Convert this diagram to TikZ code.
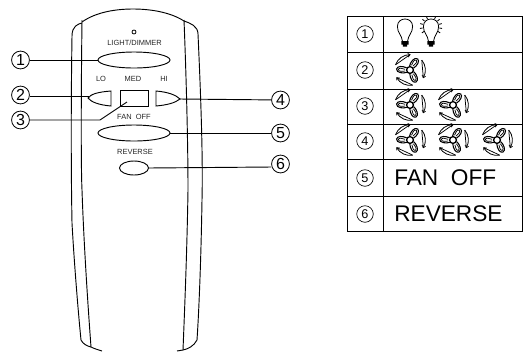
\documentclass[tikz,border=0pt]{standalone}
\usepackage{fontspec}
\setmainfont{Liberation Sans}
\usetikzlibrary{calc}
\tikzset{
  ln/.style={line width=0.7pt,black},
  num/.style={draw,circle,line width=0.6pt,minimum size=13.4pt,inner sep=0pt,font=\fontsize{12}{12}\selectfont},
  small/.style={inner sep=0pt,font=\fontsize{5.6}{6}\selectfont,text=black!85},
  tnum/.style={draw,circle,line width=0.5pt,minimum size=12.4pt,inner sep=0pt,font=\fontsize{9.5}{9.5}\selectfont},
  big/.style={inner sep=0pt,anchor=west,font=\fontsize{17}{18}\selectfont},
  fan/.pic={
    \draw[line width=1pt] (0,0) circle (3.4);
    \foreach \a in {62,182,-58}{
      \begin{scope}[rotate=\a]
        \draw[line width=0.8pt] (3.2,2.2) .. controls (7,4.4) and (12.6,4.6) .. (13.4,1.5) .. controls (13.9,-2.2) and (7,-3.6) .. (3.2,-2.2);
        \draw[line width=0.55pt] (5,0.9) .. controls (7.6,2.3) and (11.2,2.7) .. (11.6,1) .. controls (11.8,-0.9) and (7.6,-1.8) .. (5,-0.9);
        \draw[line width=0.6pt] (22:15.4) arc (22:92:15.4);
        \draw[line width=0.55pt] (22:15.4) .. controls (38:13.2) and (74:13.2) .. (92:15.4);
        \draw[line width=0.55pt] (84:13) -- (92:15.4) -- (84:16.8);
      \end{scope}
    }
  },
  bulbb/.pic={
    \draw[line width=0.6pt] (-2.6,0) .. controls (-3.2,-6) and (-7.6,-8) .. (-7.6,-14.5) .. controls (-7.6,-24.5) and (7.6,-24.5) .. (7.6,-14.5) .. controls (7.6,-8) and (3.2,-6) .. (2.6,0);
    \fill (-3.6,0) rectangle (3.6,3.6) (-2.2,3.6) rectangle (2.2,5.6);
  },
  rays/.pic={
    \foreach \a in {-215,-190,-165,-140,-115,-65,-40,-15,10,35}{
      \draw[line width=0.6pt] (0,-14.5) ++(\a:8.4) -- ++(\a:2.8);
    }
  }
}
\begin{document}
\begin{tikzpicture}[x=0.75pt,y=-0.75pt]
\useasboundingbox (0,0) rectangle (523,351);
% remote
\draw[ln] (82,22) .. controls (96,12) and (116,9) .. (133,9) .. controls (150,9) and (170,12) .. (184,21);
\draw[ln] (82,23) .. controls (78,24) and (72,26) .. (72,36) .. controls (71,100) and (71,170) .. (72,223) .. controls (74,260) and (78,310) .. (81,340) .. controls (83,344) and (87,346) .. (91,347) .. controls (95,349) and (99,350) .. (102,351);
\draw[ln] (82,20) .. controls (81,100) and (81,170) .. (82,190) .. controls (84,250) and (89,320) .. (91,347);
\draw[ln] (184,20) .. controls (186,70) and (188,140) .. (188,190) .. controls (187,250) and (185,300) .. (183,350);
\draw[ln] (184,21) .. controls (190,23) and (198,26) .. (198,34) .. controls (201,100) and (203,160) .. (202,200) .. controls (201,260) and (199,310) .. (197,340) .. controls (194,346) and (188,349) .. (183,350) -- (177,351);
\node[draw,circle,line width=0.6pt,minimum size=3pt,inner sep=0pt] (led) at (134,32) {};
% labels
\node[small] (tlight) at (134.5,43) {LIGHT/DIMMER};
\node[small] (tlo) at (101,79) {LO};
\node[small] (tmed) at (133,79) {MED};
\node[small] (thi) at (164,79) {HI};
\node[small] (tfan) at (134,117) {FAN\ \ OFF};
\node[small] (trev) at (135,152) {REVERSE};
% buttons
\draw[ln] (134,60) ellipse (36 and 8);
\coordinate (b1) at (98,60);
\draw[ln] (134,133) ellipse (36 and 8);
\coordinate (b5) at (170,133);
\draw[ln] (134,168) ellipse (14.5 and 7);
\coordinate (b6) at (148.5,168);
\draw[ln] (120,90) rectangle (148,106);
\coordinate (b3) at (127,102);
\draw[ln] (111,91) .. controls (98,92) and (91,94) .. (88,98) .. controls (91,102) and (99,105) .. (111,106) -- cycle;
\coordinate (b2) at (89,96);
\draw[ln] (156,91) .. controls (168,92) and (176,95) .. (180,99) .. controls (175,103) and (167,105) .. (156,106) -- cycle;
\coordinate (b4) at (180,99);
% callouts
\node[num] (n1) at (20.5,60) {1};
\node[num] (n2) at (20.5,95) {2};
\node[num] (n3) at (20.5,120) {3};
\node[num] (n4) at (280.5,100) {4};
\node[num] (n5) at (280.5,133) {5};
\node[num] (n6) at (280.5,164) {6};
\draw[ln] (n1) -- (b1);
\draw[ln] (n2.east) ++(0,1) -- (b2);
\coordinate (k3) at (100,120);
\draw[ln] (n3) -- (k3) -- (b3);
\draw[ln] (n4) -- (b4);
\draw[ln] (n5) -- (b5);
\draw[ln] (n6.west) ++(0,3) -- (b6);
% table
\draw[line width=0.7pt] (347,16) rectangle (522,231);
\draw[line width=0.7pt] (383,16) -- (383,231);
\foreach \y in {52,89,124,159,196}{\draw[line width=0.7pt] (347,\y) -- (522,\y);}
\node[tnum] (t1) at (365,34) {1};
\node[tnum] (t2) at (365,70) {2};
\node[tnum] (t3) at (365,106) {3};
\node[tnum] (t4) at (365,141) {4};
\node[tnum] (t5) at (365,178) {5};
\node[tnum] (t6) at (365,214) {6};
\pic at (405,41) {bulbb};
\pic at (431,41) {bulbb};
\pic at (431,41) {rays};
\pic at (410,70) {fan};
\pic at (410,105) {fan};
\pic at (453,105) {fan};
\pic at (410,140) {fan};
\pic at (453,140) {fan};
\pic at (497,140) {fan};
\node[big] (tb5) at (394,178) {FAN\ \ OFF};
\node[big] (tb6) at (394,214) {REVERSE};
\end{tikzpicture}
\end{document}
